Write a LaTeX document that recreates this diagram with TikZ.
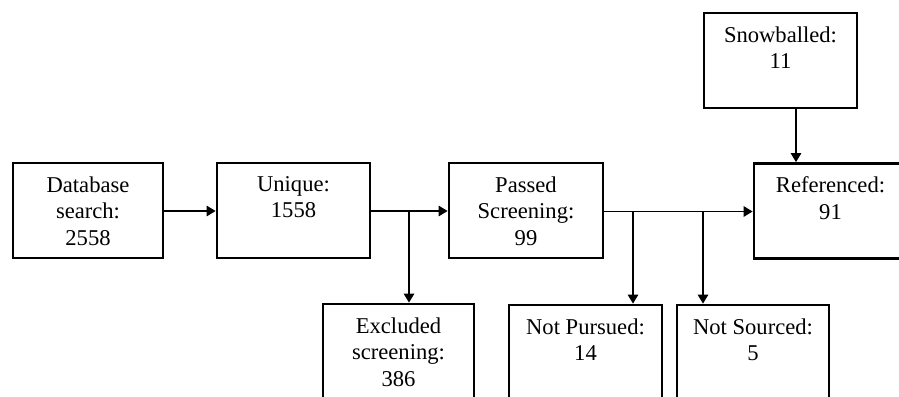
\documentclass[tikz,border=0pt]{standalone}
\usepackage{fontspec}
\setmainfont{Liberation Serif}
\usetikzlibrary{arrows.meta}
\begin{document}
\begin{tikzpicture}[x=1pt,y=-1pt,
  box/.style={draw, line width=2.8pt, minimum height=95pt, inner sep=0pt},
  lbl/.style={anchor=north, align=center, inner sep=0pt, yshift=-14.6pt,
    font=\fontsize{22.6}{26.5}\selectfont},
  conn/.style={line width=1.5pt, -{Triangle[length=9pt,width=10.5pt]}}]
\useasboundingbox (0,0) rectangle (899,396);
\begin{scope}
\clip (0,0) rectangle (899,396);
\node[box, minimum width=150pt, label={[lbl]north:{Database\\search:\\2558}}] (db) at (88,210.5) {};
\node[box, minimum width=153pt, label={[lbl]north:{Unique:\\1558}}] (uq) at (293.5,210.5) {};
\node[box, minimum width=154pt, label={[lbl]north:{Passed\\Screening:\\99}}] (ps) at (526,210.5) {};
\node[box, minimum width=153pt, label={[lbl]north:{Referenced:\\91}}] (ref) at (830.5,211) {};
\node[box, minimum width=153pt, label={[lbl]north:{Snowballed:\\11}}] (snow) at (780.5,60.5) {};
\node[box, minimum width=151pt, label={[lbl]north:{Excluded\\screening:\\386}}] (excl) at (398.5,351.5) {};
\node[box, minimum width=153pt, label={[lbl]north:{Not Pursued:\\14}}] (np) at (585.5,352.5) {};
\node[box, minimum width=152pt, label={[lbl]north:{Not Sourced:\\5}}] (ns) at (753,352.5) {};

\draw[conn] (db.east |- 0,211) -- (uq.west |- 0,211);
\draw[conn] (uq.east |- 0,211) -- (ps.west |- 0,211);
\draw[conn] (ps.east |- 0,211.5) -- (ref.west |- 0,211.5);
\coordinate (j1) at (409,211);
\coordinate (j2) at (633,211.5);
\coordinate (j3) at (703,211.5);
\coordinate (s1) at (796,108);
\draw[conn] (j1) -- (j1 |- excl.north);
\draw[conn] (j2) -- (j2 |- np.north);
\draw[conn] (j3) -- (j3 |- ns.north);
\draw[conn] (s1 |- snow.south) -- (s1 |- ref.north);
\end{scope}
\end{tikzpicture}
\end{document}
